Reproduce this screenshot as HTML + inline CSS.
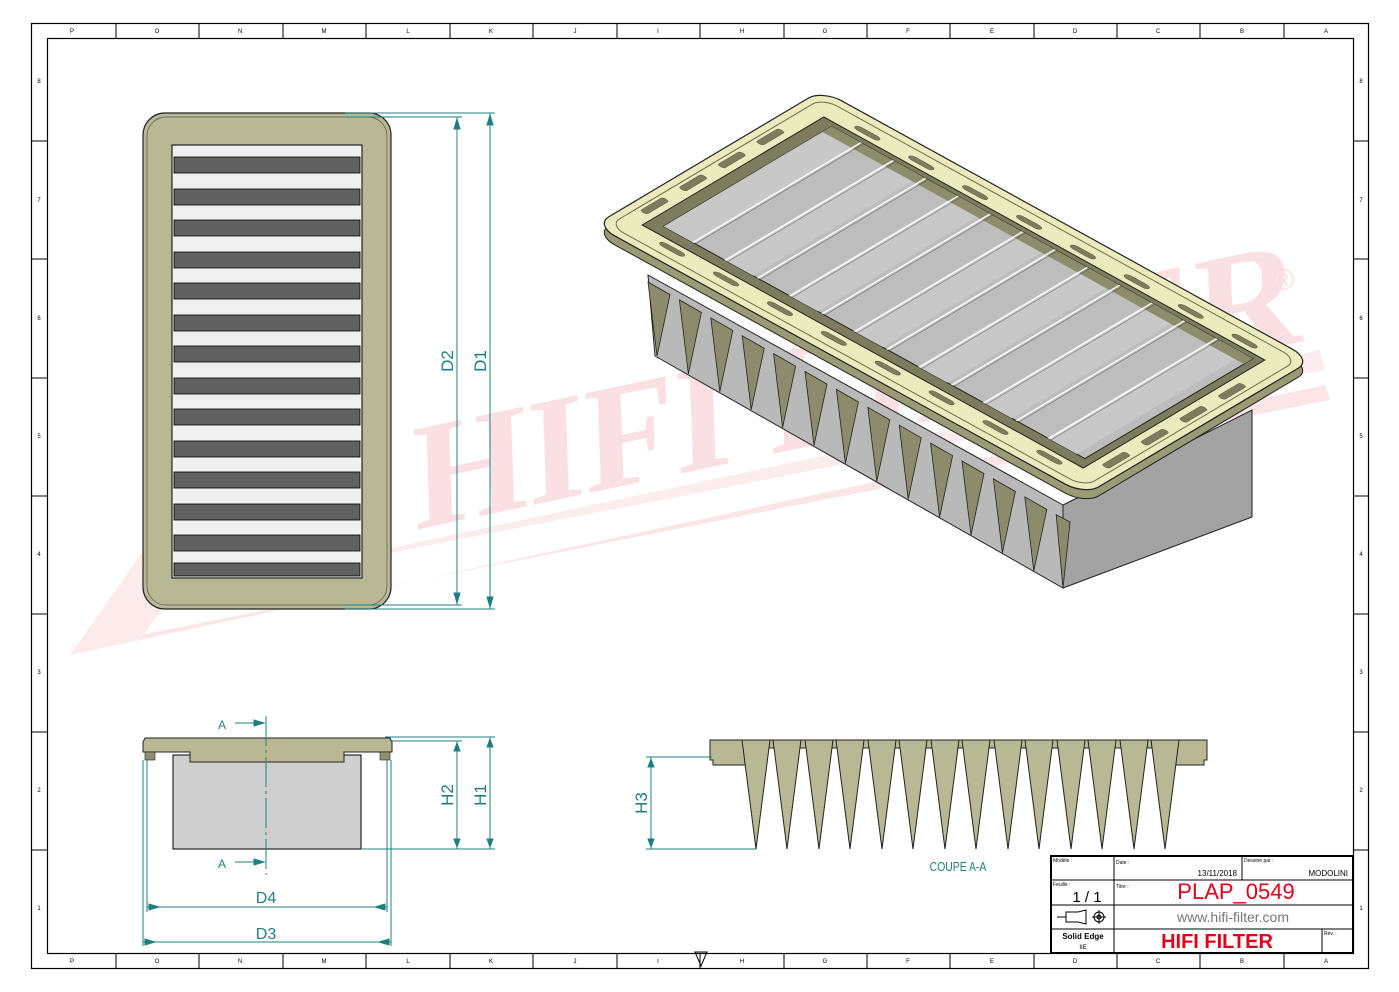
<!DOCTYPE html>
<html><head><meta charset="utf-8"><style>
html,body{margin:0;padding:0;background:#fff;}
svg{display:block;font-family:"Liberation Sans",sans-serif;}
</style></head><body>
<svg width="1399" height="992" viewBox="0 0 1399 992" xmlns="http://www.w3.org/2000/svg">
<rect width="1399" height="992" fill="#fff"/>
<!-- watermark -->
<g opacity="0.9">
<polygon points="70,655 1325,385 1330,400 140,635" fill="#fbe3e5"/>
<polygon points="100,610 1320,350 1325,370 150,600" fill="#fcebec"/>
<polygon points="70,655 200,470 260,470 140,640" fill="#fde9ea"/>
<text x="0" y="0" transform="translate(415,530) rotate(-12) skewX(-10)" font-family="Liberation Serif,serif" font-weight="bold" font-size="150" fill="#fadde0">HIFI FILTER</text>
<text x="1272" y="290" font-size="30" fill="#f8dadd">®</text>
</g>
<!-- borders -->
<rect x="31.5" y="23.5" width="1337" height="945" fill="none" stroke="#000" stroke-width="1.2"/>
<rect x="47.5" y="38.5" width="1306" height="915" fill="none" stroke="#000" stroke-width="1.2"/>
<g stroke="#000" stroke-width="1">
<path d="M116,23V38M199,23V38M283,23V38M366,23V38M450,23V38M533,23V38M617,23V38M700,23V38M784,23V38M867,23V38M950,23V38M1034,23V38M1117,23V38M1200,23V38M1284,23V38"/>
<path d="M116,953V968M199,953V968M283,953V968M366,953V968M450,953V968M533,953V968M617,953V968M700,953V968M784,953V968M867,953V968M950,953V968M1034,953V968M1117,953V968M1200,953V968M1284,953V968"/>
<path d="M31,141H47M31,259H47M31,378H47M31,496H47M31,614H47M31,732H47M31,850H47"/>
<path d="M1353,141H1368M1353,259H1368M1353,378H1368M1353,496H1368M1353,614H1368M1353,732H1368M1353,850H1368"/>
</g>
<g font-size="6" fill="#000" text-anchor="middle">
<text x="72" y="33">P</text><text x="157" y="33">O</text><text x="240" y="33">N</text><text x="324" y="33">M</text><text x="408" y="33">L</text><text x="491" y="33">K</text><text x="575" y="33">J</text><text x="658" y="33">I</text><text x="742" y="33">H</text><text x="825" y="33">G</text><text x="908" y="33">F</text><text x="992" y="33">E</text><text x="1075" y="33">D</text><text x="1158" y="33">C</text><text x="1242" y="33">B</text><text x="1326" y="33">A</text>
<text x="72" y="963">P</text><text x="157" y="963">O</text><text x="240" y="963">N</text><text x="324" y="963">M</text><text x="408" y="963">L</text><text x="491" y="963">K</text><text x="575" y="963">J</text><text x="658" y="963">I</text><text x="742" y="963">H</text><text x="825" y="963">G</text><text x="908" y="963">F</text><text x="992" y="963">E</text><text x="1075" y="963">D</text><text x="1158" y="963">C</text><text x="1242" y="963">B</text><text x="1326" y="963">A</text>
<text x="39" y="83">8</text><text x="39" y="202">7</text><text x="39" y="320">6</text><text x="39" y="438">5</text><text x="39" y="556">4</text><text x="39" y="674">3</text><text x="39" y="792">2</text><text x="39" y="910">1</text>
<text x="1361" y="83">8</text><text x="1361" y="202">7</text><text x="1361" y="320">6</text><text x="1361" y="438">5</text><text x="1361" y="556">4</text><text x="1361" y="674">3</text><text x="1361" y="792">2</text><text x="1361" y="910">1</text>
</g>
<polygon points="695,952 707,952 701,966" fill="none" stroke="#000"/>

<!-- TOP VIEW -->
<rect x="143" y="113" width="248" height="496" rx="22" fill="#b8b994" stroke="#222" stroke-width="1.2"/>
<rect x="147" y="117" width="240" height="488" rx="19" fill="none" stroke="#555" stroke-width="0.7"/>
<rect x="172" y="145" width="190" height="433" fill="#f0f0f0" stroke="#000"/>
<g fill="#616161" stroke="#000" stroke-width="0.8">
<rect x="174" y="157" width="186" height="16"/><rect x="174" y="189" width="186" height="16"/><rect x="174" y="220" width="186" height="16"/><rect x="174" y="252" width="186" height="16"/><rect x="174" y="283" width="186" height="16"/><rect x="174" y="315" width="186" height="16"/><rect x="174" y="346" width="186" height="16"/><rect x="174" y="378" width="186" height="16"/><rect x="174" y="409" width="186" height="16"/><rect x="174" y="441" width="186" height="16"/><rect x="174" y="472" width="186" height="16"/><rect x="174" y="504" width="186" height="16"/><rect x="174" y="535" width="186" height="16"/><rect x="174" y="563" width="186" height="13"/>
</g>
<!-- top-view dims -->
<g stroke="#1f7f7f" stroke-width="1" fill="#1f7f7f">
<path d="M345,113H495M345,117H462M345,609H495M345,605H462" fill="none"/>
<path d="M457,117V605M490,113V609" fill="none"/>
<polygon points="454,129 460,129 457,119"/><polygon points="454,593 460,593 457,603"/>
<polygon points="487,125 493,125 490,115"/><polygon points="487,597 493,597 490,607"/>
</g>
<text transform="translate(453,361) rotate(-90)" font-size="17" fill="#1f7f7f" text-anchor="middle">D2</text>
<text transform="translate(486,361) rotate(-90)" font-size="17" fill="#1f7f7f" text-anchor="middle">D1</text>

<!-- SIDE VIEW -->
<rect x="173" y="755" width="188" height="94" fill="#cfcfcf" stroke="#000"/>
<path d="M145,738H390L392,742V752H344V762H190V752H143V742Z" fill="#b8b994" stroke="#222"/>
<rect x="145" y="752" width="10" height="8" fill="#8f8f70" stroke="#222" stroke-width="0.6"/>
<rect x="380" y="752" width="10" height="8" fill="#8f8f70" stroke="#222" stroke-width="0.6"/>
<path d="M266,716V875" stroke="#1f7f7f" stroke-dasharray="30,4,3,4" fill="none"/>
<g stroke="#1f7f7f" stroke-width="1" fill="#1f7f7f">
<path d="M235,723H264M235,862H264" fill="none"/>
<polygon points="254,720 254,726 264,723"/><polygon points="254,859 254,865 264,862"/>
<path d="M385,737H495M390,741H462M362,849H495" fill="none"/>
<path d="M457,741V849M490,737V849" fill="none"/>
<polygon points="454,751 460,751 457,743"/><polygon points="454,839 460,839 457,847"/>
<polygon points="487,747 493,747 490,739"/><polygon points="487,839 493,839 490,847"/>
<path d="M147,760V912M387,760V912M143,760V946M391,760V946" fill="none"/>
<path d="M147,907H387M143,942H391" fill="none"/>
<polygon points="149,904 149,910 159,907"/><polygon points="385,904 385,910 375,907"/>
<polygon points="145,939 145,945 155,942"/><polygon points="389,939 389,945 379,942"/>
</g>
<text x="222" y="729" font-size="12" fill="#1f7f7f" text-anchor="middle">A</text>
<text x="222" y="868" font-size="12" fill="#1f7f7f" text-anchor="middle">A</text>
<text transform="translate(453,795) rotate(-90)" font-size="17" fill="#1f7f7f" text-anchor="middle">H2</text>
<text transform="translate(486,795) rotate(-90)" font-size="17" fill="#1f7f7f" text-anchor="middle">H1</text>
<text x="266" y="903" font-size="16" fill="#1f7f7f" text-anchor="middle">D4</text>
<text x="266" y="939" font-size="16" fill="#1f7f7f" text-anchor="middle">D3</text>

<!-- SECTION A-A -->
<path d="M710,740H1207V760H1204V765H1175V748H745V765H713V760H710Z" fill="#b8b994" stroke="#222"/>
<g fill="#b8b994" stroke="#222" stroke-width="1">
<polygon points="742,740 770,740 756,849"/><polygon points="773,740 801,740 787,849"/><polygon points="805,740 833,740 819,849"/><polygon points="836,740 864,740 850,849"/><polygon points="868,740 896,740 882,849"/><polygon points="899,740 927,740 913,849"/><polygon points="931,740 959,740 945,849"/><polygon points="962,740 990,740 976,849"/><polygon points="994,740 1022,740 1008,849"/><polygon points="1025,740 1053,740 1039,849"/><polygon points="1057,740 1085,740 1071,849"/><polygon points="1088,740 1116,740 1102,849"/><polygon points="1120,740 1148,740 1134,849"/><polygon points="1151,740 1179,740 1165,849"/>
</g>
<g stroke="#1f7f7f" stroke-width="1" fill="#1f7f7f">
<path d="M646,757H712M646,849H756M651,757V849" fill="none"/>
<polygon points="648,767 654,767 651,759"/><polygon points="648,839 654,839 651,847"/>
</g>
<text transform="translate(647,803) rotate(-90)" font-size="17" fill="#1f7f7f" text-anchor="middle">H3</text>
<text x="958" y="871" font-size="13" fill="#1f7f7f" text-anchor="middle" transform="translate(958,0) scale(0.8,1) translate(-958,0)">COUPE A-A</text>

<!-- 3D VIEW -->
<polygon points="1063,505 1252,410 1252,517 1063,588" fill="#a3a3a3" stroke="#222"/>
<polygon points="648,275 1063,505 1063,588 655,356" fill="#b9b9b9" stroke="#222"/>
<g fill="#8c8c6c" stroke="#222" stroke-width="0.8">
<polygon points="648,282 670,294.6 657,356"/><polygon points="679.4,299.9 701.4,312.5 688.4,373.9"/><polygon points="710.8,317.8 732.8,330.4 719.8,391.8"/><polygon points="742.2,335.7 764.2,348.3 751.2,409.7"/><polygon points="773.6,353.6 795.6,366.2 782.6,427.6"/><polygon points="805,371.5 827,384.1 814,445.5"/><polygon points="836.4,389.4 858.4,402 845.4,463.4"/><polygon points="867.8,407.3 889.8,419.9 876.8,481.3"/><polygon points="899.2,425.2 921.2,437.8 908.2,499.2"/><polygon points="930.6,443.1 952.6,455.7 939.6,517.1"/><polygon points="962,461 984,473.6 971,535"/><polygon points="993.4,478.9 1015.4,491.5 1002.4,552.9"/><polygon points="1024.8,496.8 1046.8,509.4 1033.8,570.8"/><polygon points="1056.2,514.7 1070,522 1063,588"/>
</g>
<!-- rim (underside thickness) -->
<g transform="translate(0,9)">
<g transform="matrix(0.227,-0.135,0.490,0.270,595,225)">
<rect x="0" y="0" width="1000" height="1000" rx="60" ry="40" fill="#9a9a74" stroke="#222" stroke-width="1" vector-effect="non-scaling-stroke"/>
</g></g>
<g transform="matrix(0.227,-0.135,0.490,0.270,595,225)">
<rect x="0" y="0" width="1000" height="1000" rx="60" ry="40" fill="#ecebbd" stroke="#222" stroke-width="1.2" vector-effect="non-scaling-stroke"/>
<rect x="30" y="15" width="940" height="970" rx="45" ry="30" fill="none" stroke="#6d6d50" stroke-width="1" vector-effect="non-scaling-stroke"/>
<rect x="100" y="50" width="800" height="900" fill="#7d7d5e" stroke="#222" stroke-width="1" vector-effect="non-scaling-stroke"/>
<rect x="140" y="75" width="740" height="860" fill="#bdbdbd" stroke="#222" stroke-width="1" vector-effect="non-scaling-stroke"/>
<g>
<rect x="140" y="75" width="740" height="60" fill="#c8c8c8"/>
<rect x="140" y="198" width="740" height="60" fill="#c8c8c8"/>
<rect x="140" y="330" width="740" height="60" fill="#c8c8c8"/>
<rect x="140" y="462" width="740" height="60" fill="#c8c8c8"/>
<rect x="140" y="594" width="740" height="60" fill="#c8c8c8"/>
<rect x="140" y="726" width="740" height="60" fill="#c8c8c8"/>
<rect x="140" y="858" width="740" height="60" fill="#c8c8c8"/>
</g>
<g fill="#8d8d6c">
<rect x="840" y="75" width="40" height="860"/>
</g>
<g stroke="#fff" stroke-width="3" vector-effect="non-scaling-stroke" fill="none">
<path d="M140,135H880M140,201H880M140,267H880M140,333H880M140,399H880M140,465H880M140,531H880M140,597H880M140,663H880M140,729H880M140,795H880M140,861H880"/>
</g>
<g stroke="#333" stroke-width="0.8" vector-effect="non-scaling-stroke" fill="none">
<path d="M140,140H880M140,206H880M140,272H880M140,338H880M140,404H880M140,470H880M140,536H880M140,602H880M140,668H880M140,734H880M140,800H880M140,866H880"/>
</g>
<g fill="#7d7d5e" stroke="#222" stroke-width="0.7" vector-effect="non-scaling-stroke">
<rect x="60" y="100" width="20" height="50" rx="10"/><rect x="60" y="210" width="20" height="50" rx="10"/><rect x="60" y="320" width="20" height="50" rx="10"/><rect x="60" y="430" width="20" height="50" rx="10"/><rect x="60" y="540" width="20" height="50" rx="10"/><rect x="60" y="650" width="20" height="50" rx="10"/><rect x="60" y="760" width="20" height="50" rx="10"/><rect x="60" y="870" width="20" height="50" rx="10"/>
<rect x="920" y="100" width="20" height="50" rx="10"/><rect x="920" y="210" width="20" height="50" rx="10"/><rect x="920" y="320" width="20" height="50" rx="10"/><rect x="920" y="430" width="20" height="50" rx="10"/><rect x="920" y="540" width="20" height="50" rx="10"/><rect x="920" y="650" width="20" height="50" rx="10"/><rect x="920" y="760" width="20" height="50" rx="10"/><rect x="920" y="870" width="20" height="50" rx="10"/>
<rect x="150" y="22" width="100" height="14" rx="7"/><rect x="320" y="22" width="100" height="14" rx="7"/><rect x="490" y="22" width="100" height="14" rx="7"/><rect x="660" y="22" width="100" height="14" rx="7"/>
<rect x="150" y="964" width="100" height="14" rx="7"/><rect x="320" y="964" width="100" height="14" rx="7"/><rect x="490" y="964" width="100" height="14" rx="7"/><rect x="660" y="964" width="100" height="14" rx="7"/>
</g>
</g>

<!-- TITLE BLOCK -->
<g stroke="#000" fill="none">
<rect x="1051" y="856" width="302" height="97" stroke-width="2"/>
<path d="M1051,880H1353M1051,905H1353M1051,929H1353M1114,856V953M1242,856V880M1322,929V953" stroke-width="1"/>
</g>
<g font-size="5" fill="#000">
<text x="1053" y="862">Modèle :</text><text x="1116" y="864">Date :</text><text x="1244" y="862">Dessiné par :</text>
<text x="1053" y="886">Feuille :</text><text x="1116" y="888">Titre :</text><text x="1324" y="935">Rév. :</text>
</g>
<text x="1237" y="876" font-size="8" fill="#000" text-anchor="end">13/11/2018</text>
<text x="1348" y="876" font-size="8" fill="#000" text-anchor="end">MODOLINI</text>
<text x="1087" y="902" font-size="15" fill="#000" text-anchor="middle">1 / 1</text>
<text x="1236" y="899" font-size="22" fill="#e3001b" text-anchor="middle">PLAP_0549</text>
<text x="1233" y="922" font-size="14" fill="#777" text-anchor="middle">www.hifi-filter.com</text>
<text x="1217" y="948" font-size="20" font-weight="bold" fill="#e3001b" text-anchor="middle">HIFI FILTER</text>
<text x="1083" y="939" font-size="8" font-weight="bold" fill="#000" text-anchor="middle">Solid Edge</text>
<text x="1083" y="949" font-size="6" fill="#000" text-anchor="middle">IIE</text>
<g stroke="#000" fill="none" stroke-width="1">
<path d="M1057,917H1066M1066,912H1078L1086,910V924L1078,922H1066Z"/>
<circle cx="1099" cy="917" r="5"/><circle cx="1099" cy="917" r="2"/><path d="M1092,917H1106M1099,910V924"/>
</g>
</svg>
</body></html>
